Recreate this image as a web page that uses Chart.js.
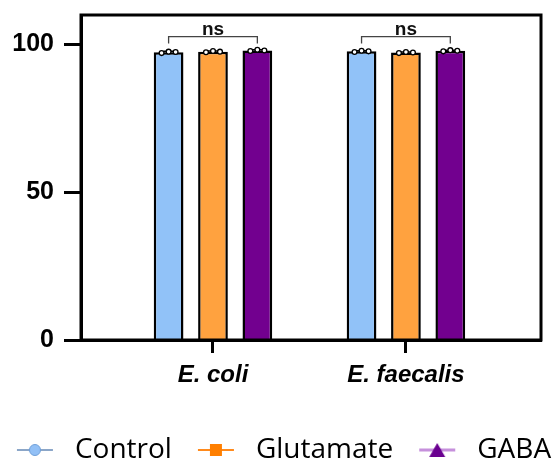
<!DOCTYPE html>
<html>
<head>
<meta charset="utf-8">
<script src="https://cdn.jsdelivr.net/npm/chart.js@4"></script>
<style>
html, body { margin: 0; padding: 0; background: #fff; }
</style>
</head>
<body>
<canvas id="chart" width="560" height="466"></canvas>
<script>
// Data
const categories = ["E. coli", "E. faecalis"];
const groups = ["Control", "Glutamate", "GABA"];
const controlMeans = [97.4, 97.7];
const glutamateMeans = [97.6, 97.3];
const gabaMeans = [98.0, 97.9];
const controlReps = [[97.1, 97.6, 97.5], [97.5, 97.9, 97.7]];
const glutamateReps = [[97.4, 97.8, 97.6], [97.1, 97.5, 97.3]];
const gabaReps = [[97.8, 98.2, 98.0], [97.7, 98.1, 97.9]];
const controlSd = [0.3, 0.2];
const glutamateSd = [0.2, 0.2];
const gabaSd = [0.2, 0.2];
const yTicks = [0, 50, 100];
const sigLabels = ["ns", "ns"];
const sigLevel = 102.7;

const fills = ["#91c2f8", "#ffa23f", "#72008f"];
const means = [controlMeans, glutamateMeans, gabaMeans];
const reps = [controlReps, glutamateReps, gabaReps];
const sds = [controlSd, glutamateSd, gabaSd];

// little line+marker icons for the legend
function makeIcon(kind) {
    const c = document.createElement("canvas");
    c.width = 40; c.height = 16;
    const g = c.getContext("2d");
    g.lineWidth = kind === "tri" ? 3 : 2;
    g.strokeStyle = kind === "circle" ? "#8ba6c8" : kind === "square" ? "#ff8a1c" : "#c690dc";
    g.beginPath(); g.moveTo(2, 8); g.lineTo(38, 8); g.stroke();
    if (kind === "circle") {
        g.beginPath(); g.arc(20, 8, 5.5, 0, Math.PI * 2);
        g.fillStyle = "#92c0f6"; g.fill();
        g.lineWidth = 1; g.strokeStyle = "#6f9fd8"; g.stroke();
    } else if (kind === "square") {
        g.fillStyle = "#ff7f00"; g.fillRect(14, 2, 12, 12);
    } else {
        g.fillStyle = "#6a0090";
        g.beginPath(); g.moveTo(20, 1); g.lineTo(28, 15); g.lineTo(12, 15); g.closePath(); g.fill();
    }
    return c;
}
const icons = [makeIcon("circle"), makeIcon("square"), makeIcon("tri")];

// drop the half-label padding Chart.js adds at the ends of an axis
function noEndPadding(s) {
    s.paddingTop = 0; s.paddingBottom = 0;
    s.paddingLeft = 0; s.paddingRight = 0;
}

// frame, replicate dots, error bars and significance brackets
const extras = {
    id: "extras",
    afterDatasetsDraw(chart) {
        const ctx = chart.ctx;
        const y = chart.scales.y;
        const a = chart.chartArea;
        ctx.save();
        ctx.strokeStyle = "#000";
        ctx.lineWidth = 3;
        ctx.strokeRect(a.left, a.top, a.right - a.left, a.bottom - a.top);

        for (let d = 0; d < groups.length; d++) {
            const meta = chart.getDatasetMeta(d);
            meta.data.forEach((bar, i) => {
                const m = means[d][i], s = sds[d][i];
                ctx.strokeStyle = "#000";
                ctx.lineWidth = 1.5;
                ctx.beginPath();
                ctx.moveTo(bar.x, y.getPixelForValue(m - s));
                ctx.lineTo(bar.x, y.getPixelForValue(m + s));
                ctx.moveTo(bar.x - 5, y.getPixelForValue(m + s));
                ctx.lineTo(bar.x + 5, y.getPixelForValue(m + s));
                ctx.stroke();
                reps[d][i].forEach((v, k) => {
                    ctx.beginPath();
                    ctx.arc(bar.x + (k - 1) * 7, y.getPixelForValue(v), 2.4, 0, Math.PI * 2);
                    ctx.fillStyle = "#fff";
                    ctx.fill();
                    ctx.lineWidth = 1.3;
                    ctx.stroke();
                });
            });
        }

        const first = chart.getDatasetMeta(0), last = chart.getDatasetMeta(2);
        sigLabels.forEach((lab, i) => {
            const x1 = first.data[i].x, x2 = last.data[i].x;
            const yl = y.getPixelForValue(sigLevel);
            ctx.strokeStyle = "#444";
            ctx.lineWidth = 1.3;
            ctx.beginPath();
            ctx.moveTo(x1, yl + 7); ctx.lineTo(x1, yl);
            ctx.lineTo(x2, yl); ctx.lineTo(x2, yl + 7);
            ctx.stroke();
            ctx.fillStyle = "#111";
            ctx.font = "bold 19px 'Liberation Sans'";
            ctx.textAlign = "center";
            ctx.textBaseline = "alphabetic";
            ctx.fillText(lab, (x1 + x2) / 2, yl - 2);
        });
        ctx.restore();
    }
};

new Chart(document.getElementById("chart"), {
    type: "bar",
    data: {
        datasets: groups.map((name, d) => ({
            label: name,
            data: categories.map((c, i) => ({ x: i + 1, y: means[d][i] })),
            backgroundColor: fills[d],
            borderColor: "#000",
            borderWidth: 2.5,
            categoryPercentage: 0.69,
            barPercentage: 0.67
        }))
    },
    options: {
        responsive: false,
        animation: false,
        // negative sides let the legend row use a little more than the canvas width
        layout: { padding: { top: 15, right: -10, left: -10, bottom: 0 } },
        plugins: {
            tooltip: { enabled: false },
            legend: {
                position: "bottom",
                maxHeight: 48,
                labels: {
                    usePointStyle: true,
                    pointStyleWidth: 52,
                    padding: 18,
                    color: "#000",
                    font: { family: "'Open Sans'", size: 28 },
                    generateLabels: () => groups.map((name, d) => ({
                        text: name,
                        pointStyle: icons[d],
                        fillStyle: fills[d],
                        strokeStyle: fills[d],
                        lineWidth: 0,
                        hidden: false,
                        datasetIndex: d
                    }))
                }
            }
        },
        scales: {
            x: {
                type: "linear",
                min: 0.316,
                max: 2.70,
                offset: false,
                afterBuildTicks: s => { s.ticks = categories.map((c, i) => ({ value: i + 1 })); },
                afterFit: s => { s.height = 78; noEndPadding(s); },
                grid: { offset: false, drawOnChartArea: false, tickLength: 13, tickWidth: 3, tickColor: "#000" },
                border: { display: true, width: 3, color: "#000" },
                ticks: {
                    autoSkip: false,
                    maxRotation: 0,
                    padding: 8,
                    color: "#000",
                    font: { family: "'Liberation Sans'", size: 24, weight: "bold", style: "italic" },
                    callback: v => categories[v - 1]
                }
            },
            y: {
                min: 0,
                max: 110,
                afterBuildTicks: s => { s.ticks = yTicks.map(v => ({ value: v })); },
                afterFit: s => { s.width = 91; noEndPadding(s); },
                grid: { drawOnChartArea: false, tickLength: 17, tickWidth: 3, tickColor: "#000" },
                border: { display: true, width: 3, color: "#000" },
                ticks: {
                    padding: 10,
                    color: "#000",
                    font: { family: "'Liberation Sans'", size: 25, weight: "bold" }
                }
            },
            // empty right-hand axis, only keeps the frame off the canvas edge
            yRight: {
                axis: "y",
                position: "right",
                min: 0,
                max: 110,
                afterFit: s => { s.width = 29; noEndPadding(s); },
                grid: { display: false },
                border: { display: false },
                ticks: { display: false }
            }
        }
    },
    plugins: [extras]
});
</script>
</body>
</html>
